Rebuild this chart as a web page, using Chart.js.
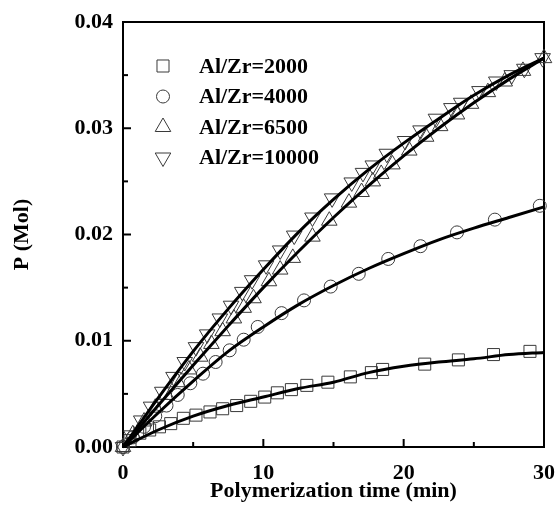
<!DOCTYPE html>
<html>
<head>
<meta charset="utf-8">
<script src="https://cdn.jsdelivr.net/npm/chart.js@4.4.0/dist/chart.umd.min.js"></script>
<style>
  html, body { margin: 0; padding: 0; background: #fff; }
</style>
</head>
<body>
<canvas id="kinetics" width="560" height="507"></canvas>
<script>
var t2000 = [0, 0.5, 1.2, 1.9, 2.6, 3.4, 4.3, 5.2, 6.2, 7.1, 8.1, 9.1, 10.1, 11.0, 12.0, 13.1, 14.6, 16.2, 17.7, 18.5, 21.5, 23.9, 26.4, 29.0];
var p2000 = [0, 0.0006, 0.0013, 0.0016, 0.0019, 0.0022, 0.0027, 0.0030, 0.0033, 0.0036, 0.0039, 0.0043, 0.0047, 0.0051, 0.0054, 0.0058, 0.0061, 0.0066, 0.0070, 0.0073, 0.0078, 0.0082, 0.0087, 0.0090];

var t4000 = [0, 0.7, 1.5, 2.3, 3.1, 3.9, 4.8, 5.7, 6.6, 7.6, 8.6, 9.6, 11.3, 12.9, 14.8, 16.8, 18.9, 21.2, 23.8, 26.5, 29.7];
var p4000 = [0, 0.0009, 0.0019, 0.0029, 0.0039, 0.0049, 0.0060, 0.0069, 0.0080, 0.0091, 0.0101, 0.0113, 0.0126, 0.0138, 0.0151, 0.0163, 0.0177, 0.0189, 0.0202, 0.0214, 0.0227];

var t6500 = [0, 0.7, 1.5, 2.3, 3.1, 3.9, 4.7, 5.5, 6.3, 7.1, 7.9, 8.6, 9.3, 10.4, 11.2, 12.1, 13.5, 14.7, 16.1, 17.0, 17.8, 18.4, 19.2, 20.4, 21.6, 22.6, 23.8, 24.8, 26.0, 27.2, 28.5, 30.0];
var p6500 = [0, 0.0012, 0.0024, 0.0037, 0.0049, 0.0061, 0.0073, 0.0085, 0.0097, 0.0109, 0.0121, 0.0131, 0.0140, 0.0156, 0.0167, 0.0178, 0.0198, 0.0213, 0.0230, 0.0240, 0.0250, 0.0257, 0.0266, 0.0279, 0.0292, 0.0302, 0.0313, 0.0323, 0.0334, 0.0344, 0.0354, 0.0366];

var t10000 = [0, 0.6, 1.3, 2.0, 2.8, 3.6, 4.4, 5.2, 6.0, 6.9, 7.7, 8.5, 9.2, 10.2, 11.2, 12.2, 13.5, 14.9, 16.3, 17.1, 17.8, 18.8, 20.1, 21.2, 22.3, 23.4, 24.1, 25.4, 26.6, 27.7, 28.6, 29.9];
var p10000 = [0, 0.0011, 0.0025, 0.0038, 0.0052, 0.0066, 0.0080, 0.0094, 0.0106, 0.0121, 0.0133, 0.0146, 0.0157, 0.0171, 0.0185, 0.0199, 0.0216, 0.0234, 0.0249, 0.0258, 0.0265, 0.0276, 0.0288, 0.0298, 0.0309, 0.0319, 0.0324, 0.0335, 0.0344, 0.0350, 0.0356, 0.0366];

// fitted curves
var tFit = [0, 2.5, 5, 7.5, 10, 12.5, 15, 17.5, 20, 22.5, 25, 27.5, 30];
var fit2000 = [0, 0.0016, 0.0029, 0.0039, 0.0047, 0.0055, 0.0061, 0.0070, 0.0076, 0.0080, 0.0083, 0.0087, 0.0089];
var fit4000 = [0, 0.0032, 0.0062, 0.0090, 0.0113, 0.0134, 0.0152, 0.0168, 0.0182, 0.0195, 0.0206, 0.0216, 0.0226];
var fit6500 = [0, 0.0039, 0.0077, 0.0114, 0.0150, 0.0184, 0.0216, 0.0246, 0.0274, 0.0300, 0.0324, 0.0346, 0.0366];
var fit10000 = [0, 0.0046, 0.0090, 0.0130, 0.0167, 0.0202, 0.0233, 0.0261, 0.0286, 0.0309, 0.0331, 0.0350, 0.0366];

var labels = ["Al/Zr=2000", "Al/Zr=4000", "Al/Zr=6500", "Al/Zr=10000"];
var xTitle = "Polymerization time (min)";
var yTitle = "P (Mol)";

var serif = "'Liberation Serif', 'Times New Roman', serif";
var markColor = "#3a3a3a";
var markers = [
  { pointStyle: "rect", radius: 8.5, rotation: 0 },
  { pointStyle: "circle", radius: 6.5, rotation: 0 },
  { pointStyle: "triangle", radius: 9, rotation: 0 },
  { pointStyle: "triangle", radius: 9, rotation: 180 }
];

function pairs(xs, ys) {
  return xs.map(function (x, i) { return { x: x, y: ys[i] }; });
}

var measured = [[t2000, p2000], [t4000, p4000], [t6500, p6500], [t10000, p10000]];
var fits = [fit2000, fit4000, fit6500, fit10000];

var datasets = [];
fits.forEach(function (f) {
  datasets.push({
    data: pairs(tFit, f),
    showLine: true,
    borderColor: "#000",
    borderWidth: 3,
    pointRadius: 0,
    cubicInterpolationMode: "monotone",
    order: 0,
    clip: false
  });
});
measured.forEach(function (m, i) {
  datasets.push({
    label: labels[i],
    data: pairs(m[0], m[1]),
    showLine: false,
    pointStyle: markers[i].pointStyle,
    pointRadius: markers[i].radius,
    pointRotation: markers[i].rotation,
    borderColor: markColor,
    backgroundColor: "rgba(0,0,0,0)",
    borderWidth: 1,
    order: 1,
    clip: false
  });
});

var frame = {
  id: "frame",
  beforeDatasetsDraw: function (chart) {
    var ctx = chart.ctx, a = chart.chartArea;
    ctx.save();
    ctx.strokeStyle = "#000";
    ctx.lineWidth = 2;
    ctx.strokeRect(a.left, a.top, a.right - a.left, a.bottom - a.top);
    var xs = chart.scales.x, ys = chart.scales.y;
    xs.ticks.forEach(function (t) {
      var px = xs.getPixelForValue(t.value);
      var len = (Math.round(t.value) % 10 === 0) ? 8 : 5;
      ctx.beginPath();
      ctx.moveTo(px, a.bottom);
      ctx.lineTo(px, a.bottom - len);
      ctx.stroke();
    });
    ys.ticks.forEach(function (t) {
      var py = ys.getPixelForValue(t.value);
      var len = (Math.round(t.value * 1000) % 10 === 0) ? 8 : 5;
      ctx.beginPath();
      ctx.moveTo(a.left, py);
      ctx.lineTo(a.left + len, py);
      ctx.stroke();
    });
    ctx.restore();
  }
};

var keyBox = {
  id: "keyBox",
  afterDraw: function (chart) {
    var ctx = chart.ctx;
    ctx.save();
    markers.forEach(function (m, i) {
      var y = 66 + i * 30.5;
      ctx.strokeStyle = markColor;
      ctx.fillStyle = "rgba(0,0,0,0)";
      ctx.lineWidth = 1;
      Chart.helpers.drawPoint(ctx, { pointStyle: m.pointStyle, radius: m.radius, rotation: m.rotation, borderWidth: 1 }, 163, y);
      ctx.fillStyle = "#000";
      ctx.font = "bold 22px " + serif;
      ctx.textAlign = "left";
      ctx.textBaseline = "middle";
      ctx.fillText(labels[i], 199, y + 1);
    });
    ctx.restore();
  }
};

new Chart("kinetics", {
  type: "scatter",
  data: { datasets: datasets },
  options: {
    responsive: false,
    animation: false,
    devicePixelRatio: 1,
    layout: { padding: { left: 0, right: 14, top: 22, bottom: 2 } },
    plugins: { legend: { display: false }, tooltip: { enabled: false } },
    scales: {
      x: {
        type: "linear",
        min: 0,
        max: 30,
        grid: { display: false },
        border: { display: false },
        ticks: {
          stepSize: 5,
          autoSkip: false,
          maxRotation: 0,
          padding: 5,
          color: "#000",
          font: { family: serif, size: 22, weight: "bold" },
          callback: function (v) { return (Math.round(v) % 10 === 0) ? String(v) : ""; }
        },
        title: {
          display: true,
          text: xTitle,
          color: "#000",
          font: { family: serif, size: 22, weight: "bold" },
          padding: { top: 0, bottom: 0 }
        },
        afterFit: function (s) { s.height = 58; }
      },
      y: {
        type: "linear",
        min: 0,
        max: 0.04,
        grid: { display: false },
        border: { display: false },
        ticks: {
          stepSize: 0.005,
          autoSkip: false,
          padding: 2,
          color: "#000",
          font: { family: serif, size: 22, weight: "bold" },
          callback: function (v) { return (Math.round(v * 1000) % 10 === 0) ? v.toFixed(2) : ""; }
        },
        title: {
          display: true,
          text: yTitle,
          color: "#000",
          font: { family: serif, size: 22, weight: "bold" },
          padding: { top: 9, bottom: 0 }
        },
        afterFit: function (s) { s.width = 123; }
      }
    }
  },
  plugins: [frame, keyBox]
});
</script>
</body>
</html>
